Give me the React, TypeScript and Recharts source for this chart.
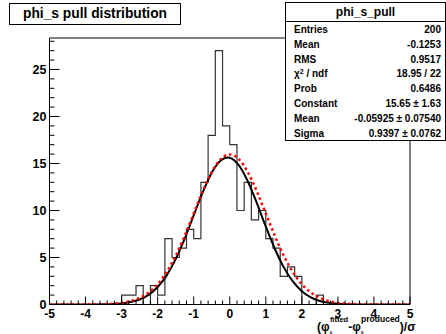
import { LineChart, Line, XAxis, YAxis, ReferenceArea } from 'recharts';

// histogram: lower edge of each 0.2-wide bin, and entries in it
const binStart = [
  -3.0, -2.8, -2.6, -2.4, -2.2, -2.0, -1.8, -1.6, -1.4, -1.2, -1.0, -0.8, -0.6, -0.4,
  -0.2, 0.0, 0.2, 0.4, 0.6, 0.8, 1.0, 1.2, 1.4, 1.6, 1.8, 2.0, 2.2, 2.4,
];
const binCount = [1, 1, 2, 0, 2, 1, 7, 5, 6, 8, 7, 13, 18, 27, 19, 17, 10, 13, 9, 10, 7, 6, 3, 4, 3, 0, 0, 1];

// gaussian fit (black) and expected N(0,1) (red dotted)
const fitX = [
  -5, -4, -3.5, -3.25, -3, -2.75, -2.5, -2.25, -2, -1.75, -1.5, -1.25, -1, -0.75, -0.5, -0.25,
  -0.06, 0, 0.25, 0.5, 0.75, 1, 1.25, 1.5, 1.75, 2, 2.25, 2.5, 2.75, 3, 3.25, 3.5, 4, 5,
];
const fitY = [
  0, 0, 0.019, 0.049, 0.117, 0.259, 0.536, 1.03, 1.86, 3.1, 4.83, 7.01, 9.48, 11.94, 14.02, 15.33,
  15.65, 15.62, 14.82, 13.11, 10.8, 8.29, 5.93, 3.95, 2.45, 1.42, 0.76, 0.38, 0.18, 0.078, 0.032, 0.012, 0, 0,
];
const refY = [
  0, 0.005, 0.035, 0.081, 0.177, 0.363, 0.701, 1.27, 2.16, 3.45, 5.18, 7.31, 9.68, 12.05, 14.08, 15.47,
  15.93, 15.96, 15.47, 14.08, 12.05, 9.68, 7.31, 5.18, 3.45, 2.16, 1.27, 0.701, 0.363, 0.177, 0.081, 0.035, 0.005, 0,
];

const xTickLabels = [-5, -4, -3, -2, -1, 0, 1, 2, 3, 4, 5];
const yTickLabels = [0, 5, 10, 15, 20, 25];

const statRows: [string, string][] = [
  ['Entries', '200'],
  ['Mean', '-0.1253'],
  ['RMS', '0.9517'],
  ['chi', '18.95 / 22'],
  ['Prob', '0.6486'],
  ['Constant', '15.65 ± 1.63'],
  ['Mean', '-0.05925 ± 0.07540'],
  ['Sigma', '0.9397 ± 0.0762'],
];

const histData = [
  { x: -5, y: 0 },
  ...binStart.map((x, i) => ({ x, y: binCount[i] })),
  { x: 2.6, y: 0 },
  { x: 5, y: 0 },
];
const fitData = fitX.map((x, i) => ({ x, y: fitY[i] }));
const refData = fitX.map((x, i) => ({ x, y: refY[i] }));

const xTicks: number[] = [];
for (let i = 0; i <= 50; i++) xTicks.push(Math.round((-5 + i * 0.2) * 10) / 10);
const yTicks: number[] = [];
for (let i = 0; i <= 28; i++) yTicks.push(i);

const FONT = '"Liberation Sans", Arial, sans-serif';

const XTick = (props: any) => {
  const { x, y, payload } = props;
  const v = payload.value;
  const major = xTickLabels.includes(v);
  return (
    <g>
      <line x1={x} x2={x} y1={y} y2={y - (major ? 8 : 4)} stroke="#000" />
      {major && (
        <text x={x} y={y + 13} textAnchor="middle" fontSize={12} fontWeight="bold" fontFamily={FONT} fill="#000">
          {v}
        </text>
      )}
    </g>
  );
};

const YTick = (props: any) => {
  const { x, y, payload } = props;
  const v = payload.value;
  const major = yTickLabels.includes(v);
  return (
    <g>
      <line x1={x} x2={x + (major ? 10 : 5)} y1={y} y2={y} stroke="#000" />
      {major && (
        <text x={x - 3} y={y + 4.5} textAnchor="end" fontSize={12.5} fontWeight="bold" fontFamily={FONT} fill="#000">
          {v}
        </text>
      )}
    </g>
  );
};

export default function App() {
  return (
    <div style={{ position: 'absolute', left: 0, top: 0, width: 446, height: 334, background: '#fff', fontFamily: FONT }}>
      <LineChart width={446} height={334} margin={{ top: 38, right: 36, bottom: 9.5, left: 9.5 }}>
        <XAxis
          type="number"
          dataKey="x"
          domain={[-5, 5]}
          ticks={xTicks}
          interval={0}
          height={20}
          tickSize={0}
          tickMargin={0}
          tickLine={false}
          axisLine={{ stroke: '#000' }}
          tick={<XTick />}
          allowDataOverflow
        />
        <YAxis
          type="number"
          domain={[0, 28.35]}
          ticks={yTicks}
          interval={0}
          width={40}
          tickSize={0}
          tickMargin={0}
          tickLine={false}
          axisLine={{ stroke: '#000' }}
          tick={<YTick />}
          allowDataOverflow
        />
        <ReferenceArea x1={-5} x2={5} y1={0} y2={28.35} fill="none" stroke="#000" strokeWidth={1} />
        <Line data={histData} dataKey="y" type="stepAfter" stroke="#333" strokeWidth={1.2} dot={false} activeDot={false} isAnimationActive={false} />
        <Line data={fitData} dataKey="y" type="monotone" stroke="#000" strokeWidth={2} dot={false} activeDot={false} isAnimationActive={false} />
        <Line data={refData} dataKey="y" type="monotone" stroke="#ff0000" strokeWidth={2.5} strokeDasharray="2.5 3" dot={false} activeDot={false} isAnimationActive={false} />
      </LineChart>

      <svg width={446} height={334} style={{ position: 'absolute', left: 0, top: 0, pointerEvents: 'none' }}>
        <text x={317} y={331} fontFamily={FONT} fontWeight="bold" fill="#000" fontSize={12}>
          (φ
          <tspan fontSize={5} dy={3}>s</tspan>
          <tspan fontSize={7.5} dx={-2.5} dy={-12}>fitted</tspan>
          <tspan dy={9}>-φ</tspan>
          <tspan fontSize={5} dy={3}>s</tspan>
          <tspan fontSize={8.5} dx={-2.5} dy={-12}>produced</tspan>
          <tspan dy={9}>)/σ</tspan>
        </text>
      </svg>

      <div
        style={{
          position: 'absolute', left: 9, top: 3, width: 170, height: 20, border: '1px solid #000',
          background: '#fff', textAlign: 'center', fontWeight: 'bold', fontSize: 13.8, lineHeight: '20px',
        }}
      >
        phi_s pull distribution
      </div>

      <div
        style={{
          position: 'absolute', left: 285, top: 2, width: 159, height: 137, border: '1px solid #000',
          background: '#fff', fontWeight: 'bold', fontSize: 10,
        }}
      >
        <div style={{ height: 18, lineHeight: '19px', textAlign: 'center', fontSize: 12, borderBottom: '1px solid #000' }}>
          phi_s_pull
        </div>
        {statRows.map(([k, v], i) => (
          <div
            key={i}
            style={{ position: 'absolute', left: 8, right: 4, top: 20 + i * 14.8, height: 14.8, lineHeight: '14.8px', display: 'flex', justifyContent: 'space-between' }}
          >
            <span>
              {k === 'chi' ? (
                <>
                  χ<sup style={{ fontSize: 7, verticalAlign: 'top', lineHeight: '10px' }}>2</sup> / ndf
                </>
              ) : (
                k
              )}
            </span>
            <span>{v}</span>
          </div>
        ))}
      </div>
    </div>
  );
}
